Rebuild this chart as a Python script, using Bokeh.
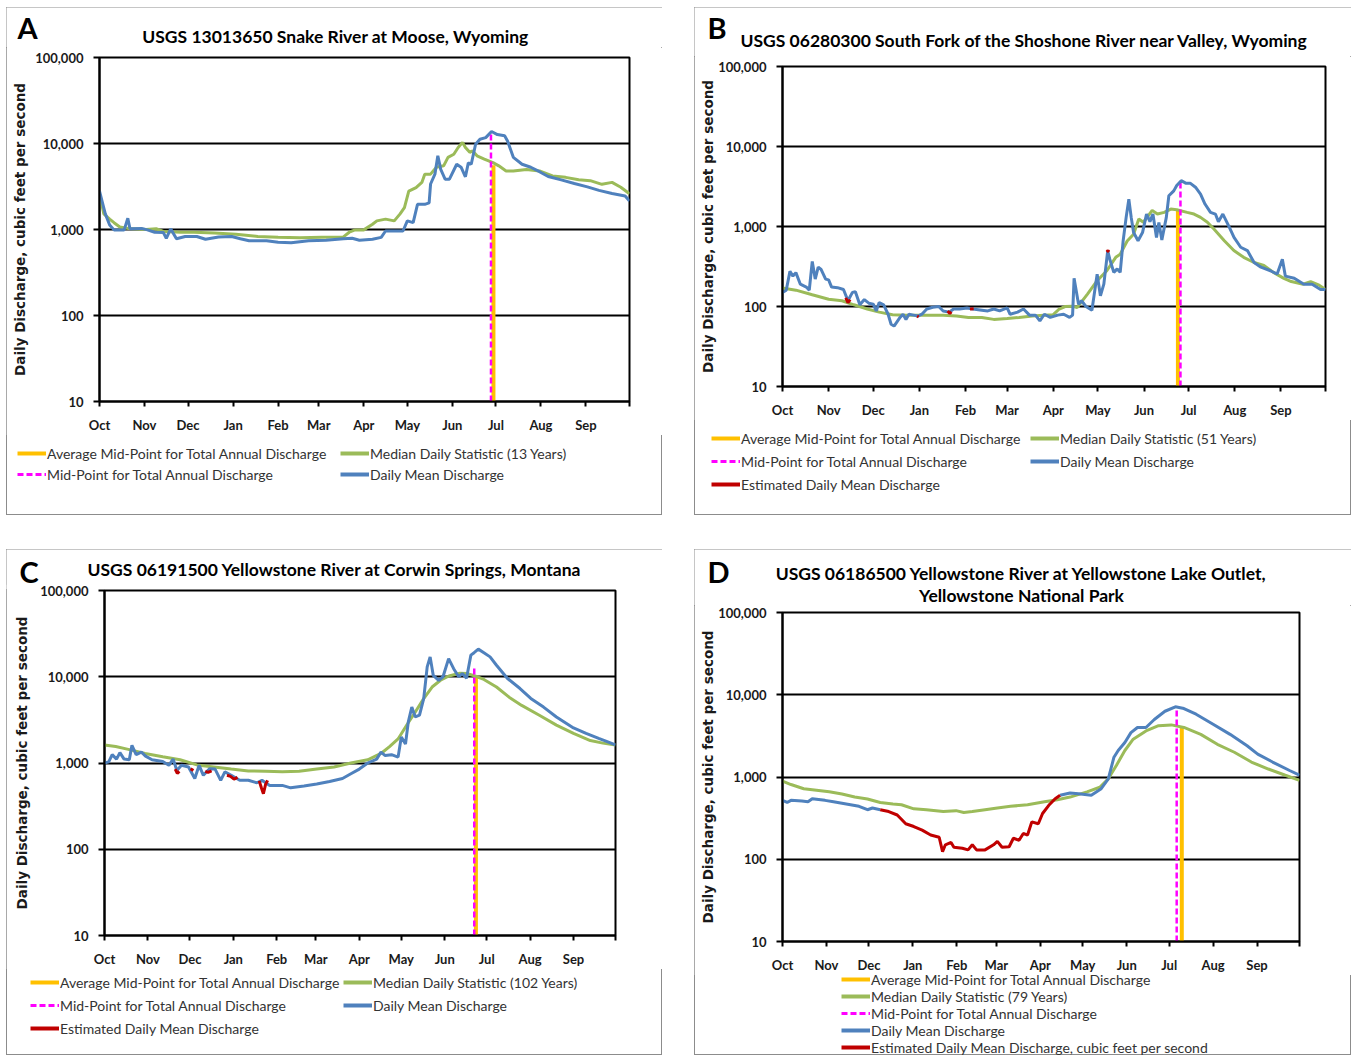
from bokeh.plotting import figure
from bokeh.models import (Range1d, FixedTicker, NumeralTickFormatter, Legend,
                          LegendItem, Label, Spacer)
from bokeh.layouts import row, column
from bokeh.embed import file_html
from bokeh.resources import INLINE

NaN = float("nan")

# ---- shared axis definitions (day of water year, Oct 1 = 0) ----
month_ticks = [0, 31, 61, 92, 123, 151, 182, 212, 243, 273, 304, 335, 365]
month_labels = ["Oct", "Nov", "Dec", "Jan", "Feb", "Mar", "Apr", "May", "Jun",
                "Jul", "Aug", "Sep", ""]
decade_ticks = [10, 100, 1000, 10000, 100000]

# ---- A: USGS 13013650 Snake River at Moose, Wyoming ----
snake_mean_days = [0, 4, 7, 10, 17, 19.5, 21, 29, 33, 38, 44, 46, 49, 53, 59, 67,
                   73, 82, 91, 97, 103, 115, 123, 132, 144, 156, 168, 174, 179, 188,
                   194, 197, 209, 212, 216, 219, 224, 227, 228, 231, 233, 235, 238,
                   241, 246, 249, 252, 254, 256, 259, 262, 266, 270, 274, 279, 281,
                   285, 291, 297, 303, 309, 318, 327, 336, 344, 353, 362, 365]
snake_mean_cfs = [2800, 1520, 1130, 990, 990, 1350, 1020, 1030, 990, 930, 920, 790,
                  1020, 780, 830, 830, 770, 820, 830, 780, 740, 740, 710, 700, 740,
                  750, 780, 790, 750, 770, 810, 960, 960, 1260, 1200, 1960, 1960,
                  2040, 3380, 4400, 7200, 5000, 3850, 3850, 5740, 5300, 4100, 5960,
                  5740, 9800, 11200, 11700, 13800, 12700, 12300, 10700, 6900, 5740,
                  5300, 4700, 4130, 3780, 3430, 3130, 2850, 2620, 2450, 2150]
snake_median_days = [0, 3, 7, 10, 14, 20, 32, 39, 44, 56, 65, 79, 94, 109, 123, 138,
                     153, 168, 172, 176, 182, 188, 191, 197, 203, 207, 210, 213, 218,
                     222, 224, 228, 232, 237, 240, 244, 247, 250, 252, 255, 257, 260,
                     265, 271, 275, 280, 285, 294, 303, 312, 321, 330, 338, 346, 353,
                     359, 365]
snake_median_cfs = [2600, 1520, 1320, 1200, 1070, 1030, 1000, 1020, 950, 930, 930,
                    910, 880, 830, 810, 800, 810, 820, 930, 990, 990, 1150, 1260,
                    1320, 1260, 1520, 1800, 2800, 3070, 3530, 4400, 4400, 5300, 5500,
                    6900, 7500, 8980, 10300, 9000, 7900, 8200, 7200, 6600, 6000, 5500,
                    4800, 4800, 5000, 4800, 4200, 4040, 3780, 3700, 3350, 3530, 3100,
                    2600]
snake_mid = (269.6, 13800)        # day, cfs at top of line
snake_avg_mid = (271.3, 5600)

# ---- B: USGS 06280300 South Fork of the Shoshone River near Valley, Wyoming ----
shoshone_mean_days = [0, 2.5, 5, 7, 9, 12, 16, 18, 20, 22, 24, 26, 29, 31, 33, 37,
                      41, 44, 47, 49, 52, 55, 58, 61, 63, 65, 68, 71, 73, 75, 79, 81,
                      83, 85, 88, 91, 94, 97, 101, 105, 108, 112, 115, 119, 124, 128,
                      134, 138, 142, 146, 151, 153, 158, 162, 166, 170, 173, 176, 180,
                      185, 189, 193, 195, 196, 199, 201, 204, 208, 211.5, 213.7, 216,
                      218.6, 220, 222.7, 225, 227, 229, 231, 232.8, 234.4, 236, 239,
                      242, 244.7, 247, 249, 251.4, 253, 255, 258, 259.7, 263, 265,
                      268, 271, 274, 277.6, 281, 284, 287.7, 291, 293, 296, 300,
                      303.5, 308, 312.5, 317, 321.6, 328, 332.5, 336, 338, 344, 350.5,
                      356, 361.7, 365]
shoshone_mean_cfs = [150, 160, 275, 240, 265, 190, 175, 160, 365, 220, 310, 290, 220,
                     215, 175, 172, 163, 118, 150, 153, 105, 122, 110, 107, 88, 112,
                     105, 80, 60, 57, 73, 80, 69, 80, 78, 76, 81, 93, 98, 100, 88, 85,
                     93, 93, 96, 93, 90, 88, 93, 88, 96, 80, 85, 93, 78, 78, 66, 80,
                     73, 78, 80, 73, 78, 225, 107, 118, 100, 90, 254, 136, 190, 497,
                     390, 267, 295, 267, 665, 1300, 2200, 1300, 840, 665, 840, 1430,
                     1150, 1430, 730, 1120, 680, 1300, 2420, 2790, 3260, 3740, 3480,
                     3480, 3100, 2540, 1910, 1500, 1430, 1150, 1430, 1010, 730, 550,
                     500, 355, 310, 280, 255, 390, 240, 225, 190, 190, 163, 163]
shoshone_median_days = [0, 9, 20, 31, 40, 48, 57, 65, 74, 83, 91, 100, 108, 117, 125,
                        134, 142, 151, 159, 168, 176, 182, 186, 190, 195, 198, 205,
                        211.5, 218, 224, 227, 231.7, 236, 239.5, 242.6, 248.5, 252,
                        256.6, 261, 265, 272, 276.6, 281, 285.6, 290, 297, 303.4, 310,
                        317, 323.6, 330, 337, 342, 350, 355, 360.7, 365]
shoshone_median_cfs = [170, 160, 140, 123, 118, 105, 93, 85, 79, 78, 78, 78, 78, 76,
                       73, 73, 69, 71, 73, 76, 78, 79, 93, 100, 101, 97, 143, 210, 280,
                       412, 450, 660, 800, 1240, 1130, 1590, 1430, 1500, 1650, 1620,
                       1500, 1430, 1300, 1130, 930, 665, 500, 412, 355, 325, 267, 225,
                       205, 190, 205, 185, 163]
shoshone_est_days = [42.5, 44, 45.5, NaN, 90.5, 91.5, NaN, 111, 112.5, 113.5, NaN,
                     126, 128.5, NaN, 218, 218.8, 219.5]
shoshone_est_cfs = [128, 112, 122, NaN, 76, 74, NaN, 88, 82, 86, NaN, 93, 94, NaN,
                    480, 500, 480]
shoshone_mid = (267.5, 3600)
shoshone_avg_mid = (265.8, 1590)

# ---- C: USGS 06191500 Yellowstone River at Corwin Springs, Montana ----
corwin_mean_days = [0, 3, 5.5, 8.6, 11, 14, 17.7, 19.6, 22.6, 26.3, 29.3, 34, 41.6,
                    46, 49, 51.7, 55, 60, 64.5, 67.6, 70.6, 75, 79, 83, 86, 90.5,
                    96.6, 102.7, 108.8, 112.5, 118, 127, 133, 142.5, 151.6, 160.8,
                    170, 176, 182, 188, 194.4, 197.5, 200.5, 205, 209.7, 212, 215,
                    217, 219.5, 222, 225, 228, 230.5, 232.6, 234.8, 238.7, 241.8,
                    245.8, 249.4, 253, 255.6, 258.6, 261.7, 264, 267, 271, 275.4,
                    280, 287.7, 296.8, 304.5, 313.6, 322.8, 335, 344, 353, 359.5, 365]
corwin_mean_cfs = [1000, 1030, 1250, 1110, 1320, 1110, 1090, 1600, 1250, 1340, 1200,
                   1090, 1040, 940, 1110, 820, 940, 900, 660, 940, 720, 860, 850, 630,
                   790, 720, 630, 630, 590, 630, 550, 550, 515, 540, 570, 610, 660,
                   750, 850, 1000, 1110, 1340, 1220, 1250, 1170, 2000, 1660, 3000,
                   4450, 3420, 3580, 5580, 13000, 17000, 10400, 9100, 10000, 16200,
                   12400, 10000, 10900, 9600, 17800, 19000, 20900, 19000, 17000,
                   13600, 9600, 7300, 5600, 4450, 3420, 2550, 2200, 1930, 1760, 1620]
corwin_median_days = [0, 8, 17, 29, 41.6, 54, 66, 78, 90.5, 102.7, 115, 127, 139,
                      151.6, 164, 176, 188, 197.5, 203.6, 209.7, 215.8, 222, 228, 234,
                      240, 246, 254, 258.6, 264.7, 271, 280, 289, 298, 310.6, 322.8,
                      335, 347, 356, 365]
corwin_median_cfs = [1620, 1550, 1440, 1290, 1180, 1090, 950, 900, 850, 810, 800, 790,
                     800, 850, 900, 1000, 1090, 1290, 1550, 1900, 2740, 3900, 5580,
                     7600, 9100, 10200, 11000, 10900, 10200, 9300, 7600, 5800, 4650,
                     3580, 2750, 2200, 1820, 1700, 1620]
corwin_est_days = [50.5, 52, 53.5, NaN, 61.5, 63.5, NaN, 72, 74, 76.5, NaN, 87.5, 90,
                   92.5, 95, NaN, 110.5, 112, 113.5, 115, 116.5]
corwin_est_cfs = [850, 760, 800, NaN, 860, 820, NaN, 800, 780, 810, NaN, 720, 700,
                  650, 680, NaN, 620, 520, 440, 560, 630]
corwin_mid = (264.1, 12600)
corwin_avg_mid = (265.3, 10000)

# ---- D: USGS 06186500 Yellowstone River at Yellowstone Lake Outlet ----
lake_mean_days = [0, 3.3, 6, 13.7, 18, 21, 30, 36, 42, 48, 54, 60, 63.5, 69, NaN,
                  196, 203, 209, 218, 225, 230, 234, 237, 241.7, 246, 250.6, 256.6,
                  262.5, 270, 277.4, 283.4, 292, 304, 316, 328, 335.5, 346, 358, 365]
lake_mean_cfs = [520, 490, 520, 510, 500, 545, 520, 500, 480, 460, 440, 400, 420, 400,
                 NaN, 600, 640, 625, 600, 720, 950, 1740, 2100, 2630, 3460, 4000,
                 4000, 5000, 6300, 7140, 6800, 5800, 4380, 3300, 2400, 1900, 1520,
                 1200, 1050]
lake_median_days = [0, 6, 15, 24, 33, 42, 51, 60, 69, 78, 84, 92.7, 101.6, 113.5,
                    122.5, 128, 134, 143, 151.7, 161, 173, 185, 194, 203, 215, 224,
                    230, 235.7, 241.7, 247.6, 256.6, 265.5, 274.5, 283.4, 295.3, 307,
                    319, 331, 343, 355, 365]
lake_median_cfs = [890, 810, 720, 690, 660, 620, 570, 540, 490, 470, 460, 410, 400,
                   380, 390, 370, 380, 400, 420, 440, 460, 500, 530, 570, 660, 750,
                   950, 1380, 2100, 2880, 3630, 4200, 4300, 4000, 3300, 2500, 2000,
                   1520, 1250, 1050, 910]
lake_est_days = [69, 75, 81, 87, 92.7, 98.6, 104.6, 110.6, 113, 115, 119, 121, 127,
                 131, 134, 137, 143, 149, 151.7, 155, 160, 163, 167, 170, 173, 176,
                 180.6, 183.6, 188, 192.5, 196]
lake_est_cfs = [400, 380, 345, 270, 250, 226, 197, 185, 124, 150, 160, 140, 136, 130,
                150, 130, 130, 150, 165, 140, 142, 180, 170, 206, 197, 285, 270, 360,
                453, 545, 600]
lake_mid = (278.3, 7070)
lake_avg_mid = (281.9, 4170)

# ---- styling ----
C_AVG = "#FFC000"
C_MED = "#9BBB59"
C_MID = "#FF00FF"
C_MEAN = "#4F81BD"
C_EST = "#C00000"
TXT = "#1a1a1a"
LEG_TXT = "#333333"

LETTER_PX = 29
TITLE_PX = 17.5

L_AVG = "Average Mid-Point for Total Annual Discharge"
L_MID = "Mid-Point for Total Annual Discharge"
L_MEAN = "Daily Mean Discharge"

SERIES_STYLE = {
    "avg": dict(line_color=C_AVG, line_width=4),
    "med": dict(line_color=C_MED, line_width=4),
    "mid": dict(line_color=C_MID, line_width=3, line_dash="6 3"),
    "mean": dict(line_color=C_MEAN, line_width=4),
    "est": dict(line_color=C_EST, line_width=4),
}


def blank_figure(w, h, transparent=False):
    """A figure whose frame fills the whole canvas, used for text and legends."""
    alpha = 0 if transparent else 1
    f = figure(width=w, height=h, x_range=Range1d(0, w), y_range=Range1d(0, h),
               x_axis_location=None, y_axis_location=None, min_border=0,
               output_backend="svg", toolbar_location=None, title=None,
               outline_line_color=None, background_fill_color="white",
               border_fill_color="white", background_fill_alpha=alpha,
               border_fill_alpha=alpha, frame_align=False)
    f.grid.visible = False
    return f


def make_chart(w, h, left, right, top, bottom, label_standoff,
               mean, median, mid, avg_mid, est):
    p = figure(width=w, height=h, x_range=Range1d(0, 365),
               y_range=Range1d(10, 100000), y_axis_type="log",
               output_backend="svg", toolbar_location=None, title=None,
               min_border_left=left, min_border_right=right,
               min_border_top=top, min_border_bottom=bottom,
               background_fill_color="white", border_fill_color="white",
               outline_line_color="black", outline_line_width=2,
               frame_align=False)

    p.xaxis.ticker = FixedTicker(ticks=month_ticks)
    p.xaxis.major_label_overrides = dict(zip(month_ticks, month_labels))
    p.yaxis.ticker = FixedTicker(ticks=decade_ticks)
    p.yaxis.formatter = NumeralTickFormatter(format="0,0")
    for ax in (p.xaxis, p.yaxis):
        ax.axis_line_color = "black"
        ax.axis_line_width = 2
        ax.major_tick_line_color = "black"
        ax.major_tick_line_width = 2
        ax.major_tick_in = 0
        ax.minor_tick_line_color = None
        ax.major_label_text_font = "Lato"
        ax.major_label_text_font_style = "bold"
        ax.major_label_text_font_size = "13px"
        ax.major_label_text_color = TXT
    p.xaxis.major_tick_out = 5
    p.xaxis.major_label_standoff = 10
    p.yaxis.major_tick_out = 6
    p.yaxis.major_label_standoff = 10
    p.yaxis.axis_label = "Daily Discharge, cubic feet per second"
    p.yaxis.axis_label_text_font = "DejaVu Sans"
    p.yaxis.axis_label_text_font_style = "bold"
    p.yaxis.axis_label_text_font_size = "13.5px"
    p.yaxis.axis_label_text_color = TXT
    p.yaxis.axis_label_standoff = label_standoff

    p.xgrid.visible = False
    p.ygrid.grid_line_color = "black"
    p.ygrid.grid_line_width = 1.8
    p.ygrid.minor_grid_line_color = None

    # series, drawn in legend order
    p.segment(x0=[avg_mid[0]], y0=[10], x1=[avg_mid[0]], y1=[avg_mid[1]],
              line_color=C_AVG, line_width=4)
    p.line(median[0], median[1], line_color=C_MED, line_width=3)
    p.segment(x0=[mid[0]], y0=[10], x1=[mid[0]], y1=[mid[1]],
              line_color=C_MID, line_width=2.5, line_dash="6 3")
    p.line(mean[0], mean[1], line_color=C_MEAN, line_width=3)
    if est is not None:
        p.line(est[0], est[1], line_color=C_EST, line_width=3)
    return p


def make_header(w, h, letter, letter_pos, titles):
    """Panel letter and centred title; positions are baseline pixels from the top."""
    f = blank_figure(w, h)
    lx, ly = letter_pos
    f.add_layout(Label(x=lx, y=h - ly + 0.4 * LETTER_PX, text=letter,
                       text_font="Lato", text_font_style="bold",
                       text_font_size=f"{LETTER_PX}px", text_color="black",
                       text_align="left", text_baseline="alphabetic"))
    for tx, ty, text in titles:
        f.add_layout(Label(x=tx, y=h - ty + 0.4 * TITLE_PX, text=text,
                           text_font="Lato", text_font_style="bold",
                           text_font_size=f"{TITLE_PX}px", text_color="black",
                           text_align="center", text_baseline="alphabetic"))
    return f


def make_legend(w, h, items, loc, nrows, glyph_h, spacing, label_w):
    f = blank_figure(w, h, transparent=True)
    legend_items = []
    for key, lab in items:
        # legend swatch only: a single undrawn point carries the line style
        r = f.line(x=[NaN], y=[NaN], **SERIES_STYLE[key])
        legend_items.append(LegendItem(label=lab, renderers=[r]))
    leg = Legend(items=legend_items, location=loc, orientation="vertical",
                 nrows=nrows, background_fill_alpha=0, border_line_alpha=0,
                 padding=0, margin=0, spacing=spacing,
                 glyph_width=29, glyph_height=glyph_h, label_height=glyph_h,
                 label_width=label_w, label_standoff=1, label_text_font="Lato",
                 label_text_font_size="14px", label_text_color=LEG_TXT)
    f.add_layout(leg)
    return f


def make_panel(w, header_h, chart_h, legend_h, borders, label_standoff,
               letter, letter_pos, titles, mean, median, mid, avg_mid, est,
               legend_items, legend_loc, nrows, glyph_h, spacing, label_w,
               head_overlap=0, legend_overlap=0):
    left, right, top, bottom = borders
    head = make_header(w, header_h, letter, letter_pos, titles)
    chart = make_chart(w, chart_h, left, right, top, bottom, label_standoff,
                       mean, median, mid, avg_mid, est)
    leg = make_legend(w, legend_h, legend_items, legend_loc, nrows, glyph_h,
                      spacing, label_w)
    if head_overlap:
        chart.styles = {"margin-top": f"-{head_overlap}px"}
    if legend_overlap:
        leg.styles = {"margin-top": f"-{legend_overlap}px"}
    return column(head, chart, leg,
                  styles={"outline": "1px solid #8c8c8c",
                          "outline-offset": "-1px"})


panel_a = make_panel(
    656, 40, 388, 80, (93, 33, 10, 34), 4,
    "A", (11, 32),
    [(329, 36, "USGS 13013650 Snake River at Moose, Wyoming")],
    (snake_mean_days, snake_mean_cfs), (snake_median_days, snake_median_cfs),
    snake_mid, snake_avg_mid, None,
    [("avg", L_AVG), ("mid", L_MID),
     ("med", "Median Daily Statistic (13 Years)"), ("mean", L_MEAN)],
    (11, 32), 2, 18, 3, 290)

panel_b = make_panel(
    657, 49, 364, 95, (88, 26, 10, 34), -1,
    "B", (13, 32),
    [(330, 40, "USGS 06280300 South Fork of the Shoshone River near Valley, Wyoming")],
    (shoshone_mean_days, shoshone_mean_cfs),
    (shoshone_median_days, shoshone_median_cfs),
    shoshone_mid, shoshone_avg_mid, (shoshone_est_days, shoshone_est_cfs),
    [("avg", L_AVG), ("mid", L_MID), ("est", "Estimated Daily Mean Discharge"),
     ("med", "Median Daily Statistic (51 Years)"), ("mean", L_MEAN)],
    (17, 21), 3, 20, 3, 286)

panel_c = make_panel(
    656, 40, 385, 86, (98, 47, 6, 34), 7,
    "C", (13, 34),
    [(328, 27, "USGS 06191500 Yellowstone River at Corwin Springs, Montana")],
    (corwin_mean_days, corwin_mean_cfs), (corwin_median_days, corwin_median_cfs),
    corwin_mid, corwin_avg_mid, (corwin_est_days, corwin_est_cfs),
    [("avg", L_AVG), ("mid", L_MID), ("est", "Estimated Daily Mean Discharge"),
     ("med", "Median Daily Statistic (102 Years)"), ("mean", L_MEAN)],
    (24, 17), 3, 20, 3, 280, head_overlap=5)

panel_d = make_panel(
    657, 56, 370, 86, (88, 52, 7, 31), -1,
    "D", (13, 34),
    [(327, 31, "USGS 06186500 Yellowstone River at Yellowstone Lake Outlet,"),
     (327, 53, "Yellowstone National Park")],
    (lake_mean_days, lake_mean_cfs), (lake_median_days, lake_median_cfs),
    lake_mid, lake_avg_mid, (lake_est_days, lake_est_cfs),
    [("avg", L_AVG), ("med", "Median Daily Statistic (79 Years)"),
     ("mid", L_MID), ("mean", L_MEAN),
     ("est", "Estimated Daily Mean Discharge, cubic feet per second")],
    (147, -0.5), 5, 16, 0, 20, legend_overlap=6)

page = column(
    Spacer(height=7),
    row(Spacer(width=6), panel_a, Spacer(width=32), panel_b),
    Spacer(height=34),
    row(Spacer(width=6), panel_c, Spacer(width=32), panel_d),
)

open("out.html", "w").write(file_html(page, INLINE))
